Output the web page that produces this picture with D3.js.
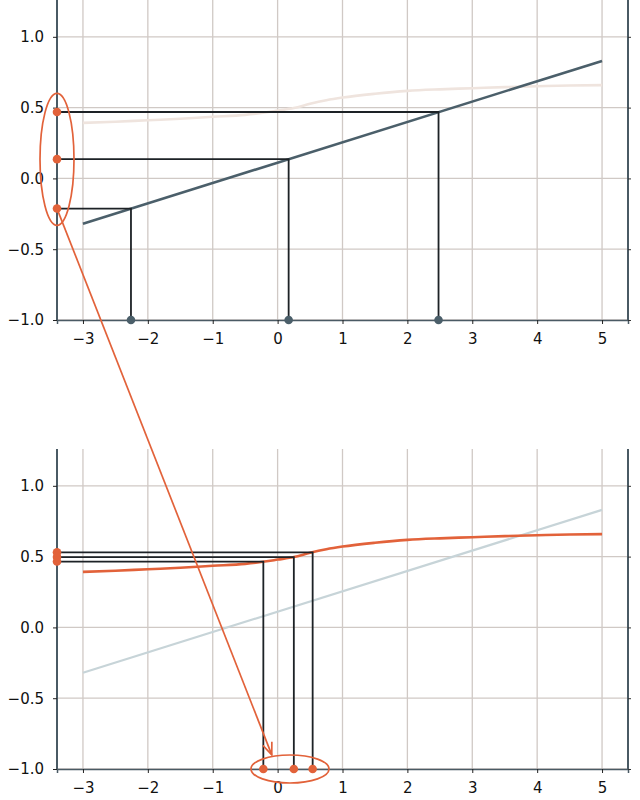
<!DOCTYPE html>
<html><head><meta charset="utf-8">
<script src="https://cdn.jsdelivr.net/npm/d3@7"></script>
<style>
body{margin:0;background:#fff;}
svg{display:block;}
.tick text{font-family:"DejaVu Sans",sans-serif;font-size:15px;fill:#111;}
</style></head>
<body>
<svg id="chart" width="640" height="800"></svg>
<script>
// ---- data ----
const xTicks = [-3, -2, -1, 0, 1, 2, 3, 4, 5];
const yTicks = [-1.0, -0.5, 0.0, 0.5, 1.0];
// straight line (endpoints)
const lineX = [-3, 5];
const lineY = [-0.32, 0.83];
// curve
const curveX = [-3, -2.5, -2, -1.5, -1, -0.5, -0.2, 0, 0.25, 0.5, 0.75, 1, 1.5, 2, 2.5, 3, 3.5, 4, 4.5, 5];
const curveY = [0.392, 0.400, 0.411, 0.421, 0.435, 0.449, 0.465, 0.479, 0.497, 0.527, 0.552, 0.571, 0.598, 0.618, 0.629, 0.637, 0.645, 0.651, 0.656, 0.659];
// projection samples, top panel (on the line)
const topSampleX = [-2.26, 0.17, 2.48];
const topSampleY = [-0.213, 0.136, 0.469];
// projection samples, bottom panel (on the curve)
const botSampleX = [-0.22, 0.25, 0.54];
const botSampleY = [0.465, 0.497, 0.530];

const svg = d3.select("#chart");
const X0 = -3.4, X1 = 5.4, Y0 = -1, Y1 = 1.26;
const x = d3.scaleLinear().domain([X0, X1]).range([57, 628]);

const C = {slate:"#4b5f6a", orange:"#e2623a", grid:"#d0c9c5", faintOrange:"#efe4de", faintSlate:"#c7d4d8", black:"#1d2226", spine:"#4a5a64"};

function panel(yRange, mode) {
  const y = d3.scaleLinear().domain([Y0, Y1]).range(yRange);
  const g = svg.append("g");
  // grid
  g.selectAll(".vg").data(xTicks).join("line")
    .attr("x1", d => x(d)).attr("x2", d => x(d))
    .attr("y1", y(Y1)).attr("y2", y(Y0))
    .attr("stroke", C.grid).attr("stroke-width", 1.3);
  g.selectAll(".hg").data(yTicks).join("line")
    .attr("x1", x(X0)).attr("x2", x(X1))
    .attr("y1", d => y(d)).attr("y2", d => y(d))
    .attr("stroke", C.grid).attr("stroke-width", 1.3);

  const lineGen = d3.line().x(d => x(d[0])).y(d => y(d[1]));
  const curveGen = d3.line().x(d => x(d[0])).y(d => y(d[1])).curve(d3.curveMonotoneX);
  const lineData = lineX.map((v, i) => [v, lineY[i]]);
  const curveData = curveX.map((v, i) => [v, curveY[i]]);

  let sx, sy, dotColor;
  if (mode === "top") {
    g.append("path").attr("d", curveGen(curveData)).attr("fill", "none")
      .attr("stroke", C.faintOrange).attr("stroke-width", 2.6);
    g.append("path").attr("d", lineGen(lineData)).attr("fill", "none")
      .attr("stroke", C.slate).attr("stroke-width", 2.6);
    sx = topSampleX; sy = topSampleY; dotColor = C.slate;
  } else {
    g.append("path").attr("d", lineGen(lineData)).attr("fill", "none")
      .attr("stroke", C.faintSlate).attr("stroke-width", 2.2);
    g.append("path").attr("d", curveGen(curveData)).attr("fill", "none")
      .attr("stroke", C.orange).attr("stroke-width", 2.6);
    sx = botSampleX; sy = botSampleY; dotColor = C.orange;
  }
  // projection lines
  sx.forEach((v, i) => {
    g.append("path")
      .attr("d", `M${x(X0)},${y(sy[i])}H${x(v)}V${y(Y0)}`)
      .attr("fill", "none").attr("stroke", C.black).attr("stroke-width", 1.8);
  });

  // axes
  const ax = g.append("g").attr("transform", `translate(0,${y(Y0)})`)
    .call(d3.axisBottom(x).tickValues(xTicks).tickSize(4).tickPadding(9).tickFormat(d3.format("d")));
  ax.select(".domain").attr("stroke", C.spine).attr("stroke-width", 1.5);
  ax.selectAll(".tick line").attr("stroke", "#222");
  const ay = g.append("g").attr("transform", `translate(${x(X0)},0)`)
    .call(d3.axisLeft(y).tickValues(yTicks).tickSize(4).tickPadding(9).tickFormat(d3.format(".1f")));
  ay.select(".domain").attr("stroke", C.spine).attr("stroke-width", 2).attr("d", `M0,${y(Y1)}V${y(Y0)}`);
  ay.selectAll(".tick line").attr("stroke", "#222");
  const ar = g.append("g").attr("transform", `translate(${x(X1)},0)`)
    .call(d3.axisLeft(y).tickValues(yTicks).tickSize(-3).tickFormat(""));
  ar.select(".domain").attr("stroke", C.spine).attr("stroke-width", 2).attr("d", `M0,${y(Y1)}V${y(Y0)}`);
  ar.selectAll(".tick line").attr("stroke", "#333");

  // dots on axis (orange) and bottom (sample colour)
  g.selectAll(".da").data(sy).join("circle")
    .attr("cx", x(X0)).attr("cy", d => y(d)).attr("r", 4.3).attr("fill", C.orange);
  g.selectAll(".db").data(sx).join("circle")
    .attr("cx", d => x(d)).attr("cy", y(Y0)).attr("r", 4.3).attr("fill", dotColor);
  return y;
}

const yT = panel([320, 0], "top");
const yB = panel([769, 449], "bottom");

// ellipses highlighting
const eTopCY = (yT(topSampleY[0]) + yT(topSampleY[2])) / 2;
svg.append("ellipse").attr("cx", x(X0)).attr("cy", eTopCY - 1)
  .attr("rx", 17).attr("ry", 66).attr("fill", "none").attr("stroke", C.orange).attr("stroke-width", 1.7);
const eBotCX = (x(botSampleX[0]) + x(botSampleX[2])) / 2;
svg.append("ellipse").attr("cx", eBotCX + 2).attr("cy", yB(Y0))
  .attr("rx", 39).attr("ry", 14).attr("fill", "none").attr("stroke", C.orange).attr("stroke-width", 1.7);

// arrow
const ax0 = x(X0), ay0 = yT(topSampleY[0]);
const ax1 = x(-0.09), ay1 = yB(-0.9);
svg.append("line").attr("x1", ax0).attr("y1", ay0).attr("x2", ax1).attr("y2", ay1)
  .attr("stroke", C.orange).attr("stroke-width", 1.7);
const ang = Math.atan2(ay1 - ay0, ax1 - ax0);
const hl = 13, ha = 0.38;
svg.append("path")
  .attr("d", `M${ax1 - hl*Math.cos(ang - ha)},${ay1 - hl*Math.sin(ang - ha)}L${ax1},${ay1}L${ax1 - hl*Math.cos(ang + ha)},${ay1 - hl*Math.sin(ang + ha)}`)
  .attr("fill", "none").attr("stroke", C.orange).attr("stroke-width", 1.7);
</script>
</body></html>
